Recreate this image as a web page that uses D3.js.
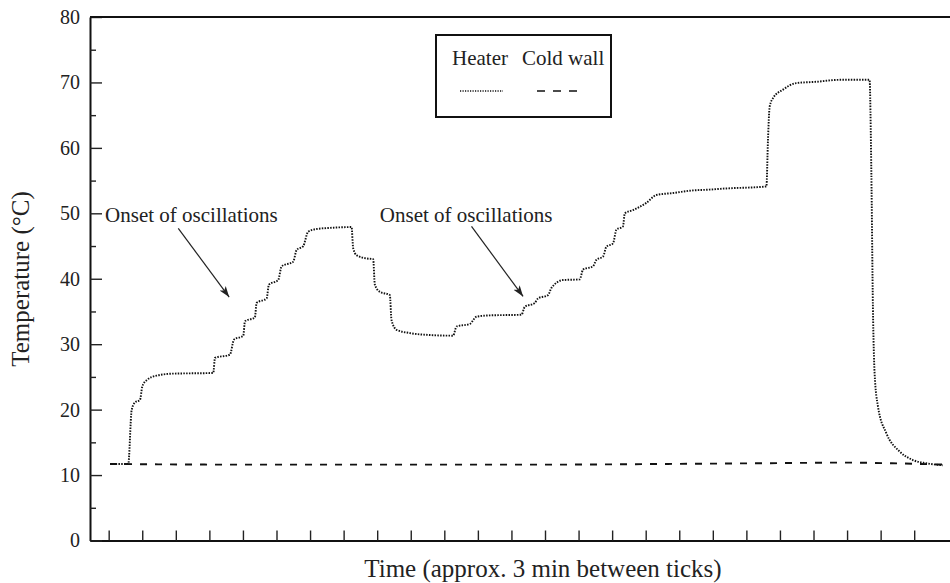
<!DOCTYPE html>
<html lang="en">

<head>
    <meta charset="UTF-8">
    <title>Heater and cold wall temperature</title>
    <script src="https://d3js.org/d3.v7.min.js"></script>
    <style>
        body { margin: 0; background: #fff; }
        text { font-family: "Liberation Serif", "Times New Roman", serif; fill: #222; }
    </style>
</head>

<body>

    <svg></svg>

    <script>

        // Time in minutes (one tick = 3 min), temperature in degC
        const heaterTime = [0.12, 1.75, 2.05, 2.35, 2.80, 3.00, 3.39, 4.29, 5.77, 9.35,
            9.50, 10.84, 11.20, 12.03, 12.18, 13.07, 13.22, 14.12, 14.32, 15.15,
            15.46, 16.49, 16.80, 17.39, 17.83, 18.58, 20.07, 21.71, 21.85, 22.16,
            23.05, 23.64, 23.79, 24.24, 25.13, 25.28, 25.73, 26.92, 28.70, 30.79,
            31.09, 32.28, 32.88, 34.06, 36.90, 37.19, 38.09, 38.38, 39.27, 39.58,
            40.61, 42.10, 42.40, 43.29, 43.60, 44.19, 44.49, 45.08, 45.38, 45.97,
            46.13, 46.87, 48.06, 48.96, 50.44, 52.23, 53.43, 55.21, 58.79, 58.93,
            59.08, 59.38, 60.27, 61.47, 63.25, 65.33, 68.01, 68.17, 68.31, 68.46,
            68.76, 69.51, 70.70, 71.88, 73.08, 74.56];
        const heaterTemp = [11.7, 11.7, 19.9, 21.1, 21.5, 23.5, 24.5, 25.2, 25.5, 25.6,
            27.9, 28.4, 30.7, 31.3, 33.5, 34.1, 36.3, 37.0, 39.1, 39.8,
            41.9, 42.6, 44.4, 45.0, 47.2, 47.6, 47.8, 47.9, 44.7, 43.6,
            43.1, 43.0, 39.1, 38.0, 37.5, 33.7, 32.2, 31.7, 31.4, 31.3,
            32.7, 33.1, 34.2, 34.4, 34.5, 35.7, 36.3, 37.0, 37.5, 38.6,
            39.8, 39.9, 41.4, 41.9, 42.9, 43.4, 44.9, 45.4, 47.5, 48.0,
            50.0, 50.5, 51.6, 52.8, 53.1, 53.5, 53.6, 53.8, 54.1, 61.2,
            66.3, 67.6, 68.9, 69.9, 70.1, 70.4, 70.4, 56.2, 35.7, 25.6,
            20.5, 16.4, 13.6, 12.3, 11.8, 11.5];

        const coldTime = [0.12, 10, 20, 30, 40, 50, 58, 66, 70, 74.56];
        const coldTemp = [11.7, 11.6, 11.6, 11.6, 11.6, 11.7, 11.8, 11.9, 11.8, 11.6];

        const xTicks = d3.range(0, 73, 3);
        const yMajorTicks = [0, 10, 20, 30, 40, 50, 60, 70, 80];
        const yMinorTicks = [5, 15, 25, 35, 45, 55, 65, 75];

        const seriesNames = ["Heater", "Cold wall"];
        const onsetLabel = "Onset of oscillations";
        // label anchor and arrow start/end, in data coordinates
        const onsets = [
            { label: [-0.32, 48.6], from: [6.22, 47.7], to: [10.77, 37.2] },
            { label: [24.24, 48.6], from: [32.43, 48.0], to: [37.04, 37.3] }
        ];

        const margin = { top: 17, right: 0, bottom: 42.5, left: 90 };
        const width = 950 - margin.left - margin.right;
        const height = 583 - margin.top - margin.bottom;

        const root = d3.select("svg")
            .attr("width", 950)
            .attr("height", 583);

        root.append("defs").append("marker")
            .attr("id", "arrow")
            .attr("viewBox", "0 0 10 10")
            .attr("refX", 10)
            .attr("refY", 5)
            .attr("markerWidth", 11)
            .attr("markerHeight", 11)
            .attr("markerUnits", "userSpaceOnUse")
            .attr("orient", "auto")
            .append("path")
            .attr("d", "M0,1.5 L10,5 L0,8.5 L2.5,5 Z")
            .attr("fill", "#222");

        const svg = root.append("g")
            .attr("transform", `translate(${margin.left}, ${margin.top})`);

        const x = d3.scaleLinear().domain([-1.67, 75.2]).range([0, width]);
        const y = d3.scaleLinear().domain([0, 80]).range([height, 0]);

        // Axes (ticks point inward)
        const xAxis = svg.append("g")
            .attr("transform", `translate(0, ${height})`)
            .call(d3.axisBottom(x).tickValues(xTicks).tickSize(-10).tickSizeOuter(0).tickFormat(""));
        xAxis.select(".domain").attr("stroke-width", 2).attr("stroke", "#111");
        xAxis.selectAll(".tick line").attr("stroke-width", 1.4).attr("stroke", "#222");

        const yAxis = svg.append("g")
            .call(d3.axisLeft(y).tickValues(yMajorTicks).tickSize(-12).tickSizeOuter(0).tickPadding(10));
        yAxis.attr("font-family", null).attr("font-size", null);
        yAxis.select(".domain").attr("stroke-width", 2).attr("stroke", "#111");
        yAxis.selectAll(".tick line").attr("stroke-width", 1.4).attr("stroke", "#222");
        yAxis.selectAll("text")
            .style("font-size", "20px")
            .attr("fill", "#222");

        const yMinor = svg.append("g")
            .call(d3.axisLeft(y).tickValues(yMinorTicks).tickSize(-6).tickFormat(""));
        yMinor.select(".domain").remove();
        yMinor.selectAll(".tick line").attr("stroke-width", 1.4).attr("stroke", "#222");

        // top frame line
        svg.append("line")
            .attr("x1", 0).attr("x2", width)
            .attr("y1", y(80)).attr("y2", y(80))
            .attr("stroke", "#111")
            .attr("stroke-width", 2);

        // Lines
        const heater = heaterTime.map((t, i) => [t, heaterTemp[i]]);
        const cold = coldTime.map((t, i) => [t, coldTemp[i]]);

        const line = d3.line()
            .x(d => x(d[0]))
            .y(d => y(d[1]))
            .curve(d3.curveMonotoneX);

        svg.append("path")
            .datum(cold)
            .attr("fill", "none")
            .attr("stroke", "#111")
            .attr("stroke-width", 1.9)
            .attr("stroke-dasharray", "7,8")
            .attr("d", line);

        svg.append("path")
            .datum(heater)
            .attr("fill", "none")
            .attr("stroke", "#111")
            .attr("stroke-width", 1.9)
            .attr("stroke-dasharray", "1.5,1.3")
            .attr("d", line);

        // Annotations
        onsets.forEach(o => {
            svg.append("text")
                .attr("x", x(o.label[0]))
                .attr("y", y(o.label[1]))
                .style("font-size", "21px")
                .text(onsetLabel);
            svg.append("line")
                .attr("x1", x(o.from[0])).attr("y1", y(o.from[1]))
                .attr("x2", x(o.to[0])).attr("y2", y(o.to[1]))
                .attr("stroke", "#222")
                .attr("stroke-width", 1.2)
                .attr("marker-end", "url(#arrow)");
        });

        // Axis titles
        root.append("text")
            .attr("x", margin.left + width / 2 + 23)
            .attr("y", 577)
            .attr("text-anchor", "middle")
            .style("font-size", "25px")
            .text("Time (approx. 3 min between ticks)");

        root.append("text")
            .attr("transform", "translate(29, 279) rotate(-90)")
            .attr("text-anchor", "middle")
            .style("font-size", "25px")
            .text("Temperature (°C)");

        // Legend
        const legend = root.append("g");
        legend.append("rect")
            .attr("x", 436).attr("y", 35)
            .attr("width", 175).attr("height", 82)
            .attr("fill", "#fff")
            .attr("stroke", "#111")
            .attr("stroke-width", 2);
        legend.append("text").attr("x", 452).attr("y", 65).style("font-size", "21px").text(seriesNames[0]);
        legend.append("text").attr("x", 522).attr("y", 65).style("font-size", "21px").text(seriesNames[1]);
        legend.append("line")
            .attr("x1", 460).attr("x2", 503).attr("y1", 91).attr("y2", 91)
            .attr("stroke", "#111").attr("stroke-width", 1.4).attr("stroke-dasharray", "1.2,1.3");
        legend.append("line")
            .attr("x1", 537).attr("x2", 578).attr("y1", 91).attr("y2", 91)
            .attr("stroke", "#111").attr("stroke-width", 1.6).attr("stroke-dasharray", "8,8");

    </script>

</body>

</html>
